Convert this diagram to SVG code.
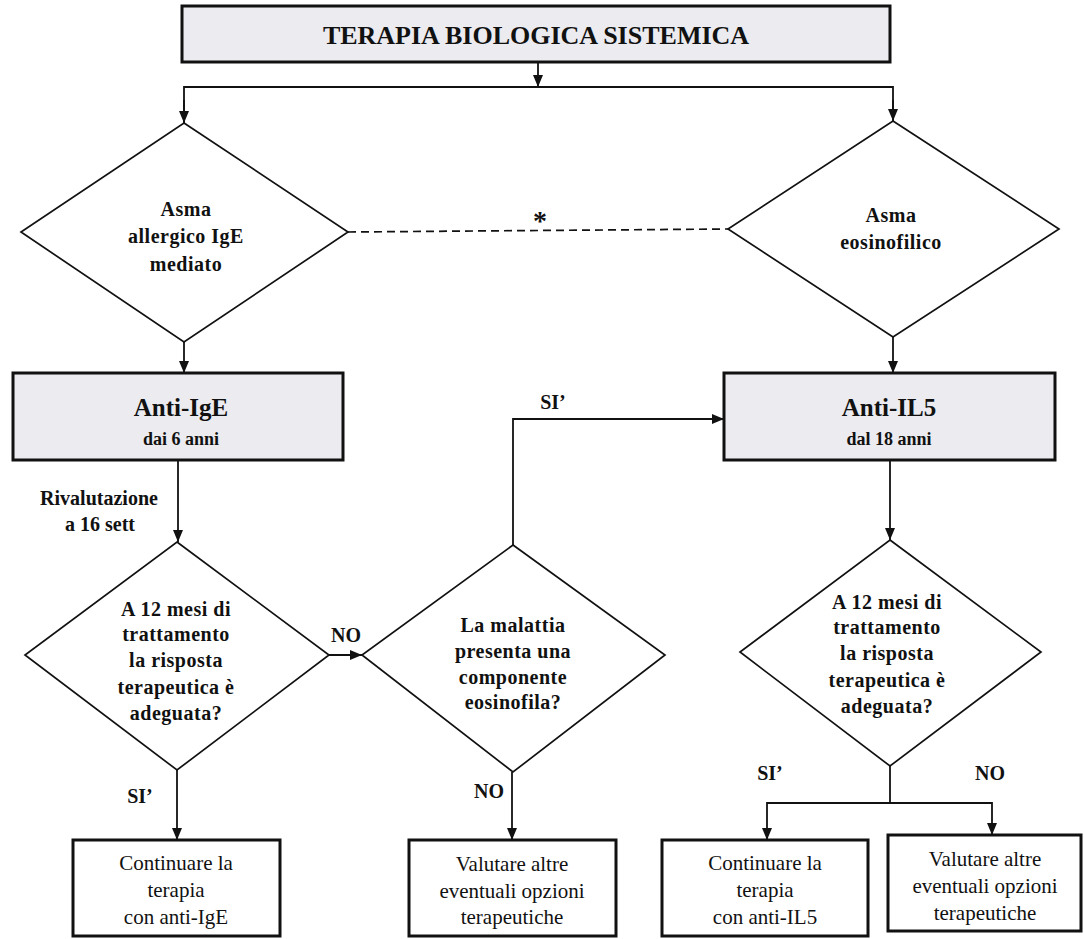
<svg xmlns="http://www.w3.org/2000/svg" width="1084" height="939" viewBox="0 0 1084 939">
<defs>
<marker id="ah" markerWidth="12" markerHeight="10" refX="12" refY="5" orient="auto" markerUnits="userSpaceOnUse">
<path d="M0,0 L12,5 L0,10 z" fill="#111"/>
</marker>
<style>
.bg{fill:#fff}
.shade{fill:#ebebf0;stroke:#111;stroke-width:3}
.box{fill:#fff;stroke:#111;stroke-width:3}
.dia{fill:#fff;stroke:#111;stroke-width:1.7}
.ln{fill:none;stroke:#111;stroke-width:1.8}
.arr{fill:none;stroke:#111;stroke-width:1.8;marker-end:url(#ah)}
.dash{fill:none;stroke:#111;stroke-width:1.7;stroke-dasharray:8,5}
.t{font-family:"Liberation Serif","Times New Roman",serif;fill:#111;text-anchor:middle}
.b{font-weight:bold}
.title{font-size:26px}
.big{font-size:25px}
.sub{font-size:18px}
.dt{font-size:20px;letter-spacing:0.5px}
.lb{font-size:20px}
.bx{font-size:21px}
</style>
</defs>
<rect class="bg" x="0" y="0" width="1084" height="939"/>

<g id="connectors">
<line class="arr" x1="538" y1="62" x2="538" y2="87"/>
<polyline class="ln" points="184,123 184,87 893,87 893,121"/>
<line class="arr" x1="184" y1="100" x2="184" y2="123"/>
<line class="arr" x1="893" y1="100" x2="893" y2="121"/>
<line class="dash" x1="348" y1="232" x2="728" y2="229"/>
<line class="arr" x1="184" y1="342" x2="184" y2="373"/>
<line class="arr" x1="893" y1="337" x2="893" y2="373"/>
<line class="arr" x1="178" y1="460" x2="178" y2="542"/>
<line class="arr" x1="890" y1="460" x2="890" y2="540"/>
<line class="arr" x1="329" y1="655" x2="362" y2="655"/>
<polyline class="arr" points="513,545 513,419 724,419"/>
<line class="arr" x1="177" y1="770" x2="177" y2="840"/>
<line class="arr" x1="512" y1="772" x2="512" y2="840"/>
<polyline class="ln" points="890,766 890,803"/>
<polyline class="arr" points="890,803 767,803 767,840"/>
<polyline class="arr" points="890,803 992,803 992,835"/>
</g>

<g id="n-title">
<rect class="shade" x="182" y="6" width="708" height="56"/>
<text class="t b title" x="536" y="44">TERAPIA BIOLOGICA SISTEMICA</text>
</g>

<g id="n-asma-ige">
<polygon class="dia" points="184,123 348,232 184,342 21,232"/>
<text class="t b dt" x="186" y="216">Asma</text>
<text class="t b dt" x="186" y="243">allergico IgE</text>
<text class="t b dt" x="186" y="271">mediato</text>
</g>

<g id="n-asma-eos">
<polygon class="dia" points="893,121 1059,229 893,337 728,229"/>
<text class="t b dt" x="891" y="222">Asma</text>
<text class="t b dt" x="891" y="249">eosinofilico</text>
</g>

<g id="l-star">
<text class="t b" style="font-size:28px" x="540" y="230">*</text>
</g>

<g id="n-anti-ige">
<rect class="shade" x="13" y="373" width="330" height="87"/>
<text class="t b big" x="181" y="416">Anti-IgE</text>
<text class="t b sub" x="181" y="445">dai  6 anni</text>
</g>

<g id="n-anti-il5">
<rect class="shade" x="724" y="373" width="331" height="87"/>
<text class="t b big" x="889" y="416">Anti-IL5</text>
<text class="t b sub" x="889" y="445">dal  18 anni</text>
</g>

<g id="l-rival">
<text class="t b lb" x="99" y="505">Rivalutazione</text>
<text class="t b lb" x="100" y="531">a 16 sett</text>
</g>

<g id="n-q1">
<polygon class="dia" points="177,542 329,655 177,770 25,655"/>
<text class="t b dt" x="176" y="616">A 12 mesi di</text>
<text class="t b dt" x="176" y="641">trattamento</text>
<text class="t b dt" x="176" y="667">la risposta</text>
<text class="t b dt" x="176" y="694">terapeutica  è</text>
<text class="t b dt" x="176" y="720">adeguata?</text>
</g>

<g id="n-q2">
<polygon class="dia" points="513,545 665,655 513,772 362,655"/>
<text class="t b dt" x="513" y="632">La malattia</text>
<text class="t b dt" x="513" y="658">presenta una</text>
<text class="t b dt" x="513" y="684">componente</text>
<text class="t b dt" x="513" y="709">eosinofila?</text>
</g>

<g id="n-q3">
<polygon class="dia" points="890,540 1041,652 890,766 740,652"/>
<text class="t b dt" x="887" y="609">A 12 mesi di</text>
<text class="t b dt" x="887" y="634">trattamento</text>
<text class="t b dt" x="887" y="660">la risposta</text>
<text class="t b dt" x="887" y="687">terapeutica  è</text>
<text class="t b dt" x="887" y="713">adeguata?</text>
</g>

<g id="labels">
<text class="t b lb" x="346" y="642">NO</text>
<text class="t b lb" x="553" y="409">SI’</text>
<text class="t b lb" x="140" y="803">SI’</text>
<text class="t b lb" x="489" y="798">NO</text>
<text class="t b lb" x="770" y="780">SI’</text>
<text class="t b lb" x="990" y="780">NO</text>
</g>

<g id="n-cont-ige">
<rect class="box" x="73" y="840" width="207" height="96"/>
<text class="t bx" x="176" y="870">Continuare la</text>
<text class="t bx" x="176" y="897">terapia</text>
<text class="t bx" x="176" y="924">con anti-IgE</text>
</g>

<g id="n-val-1">
<rect class="box" x="409" y="840" width="207" height="96"/>
<text class="t bx" x="512" y="871">Valutare altre</text>
<text class="t bx" x="512" y="898">eventuali opzioni</text>
<text class="t bx" x="512" y="924">terapeutiche</text>
</g>

<g id="n-cont-il5">
<rect class="box" x="662" y="840" width="206" height="96"/>
<text class="t bx" x="765" y="870">Continuare la</text>
<text class="t bx" x="765" y="897">terapia</text>
<text class="t bx" x="765" y="924">con anti-IL5</text>
</g>

<g id="n-val-2">
<rect class="box" x="888" y="835" width="193" height="96"/>
<text class="t bx" x="985" y="866">Valutare altre</text>
<text class="t bx" x="985" y="893">eventuali opzioni</text>
<text class="t bx" x="985" y="920">terapeutiche</text>
</g>
</svg>
